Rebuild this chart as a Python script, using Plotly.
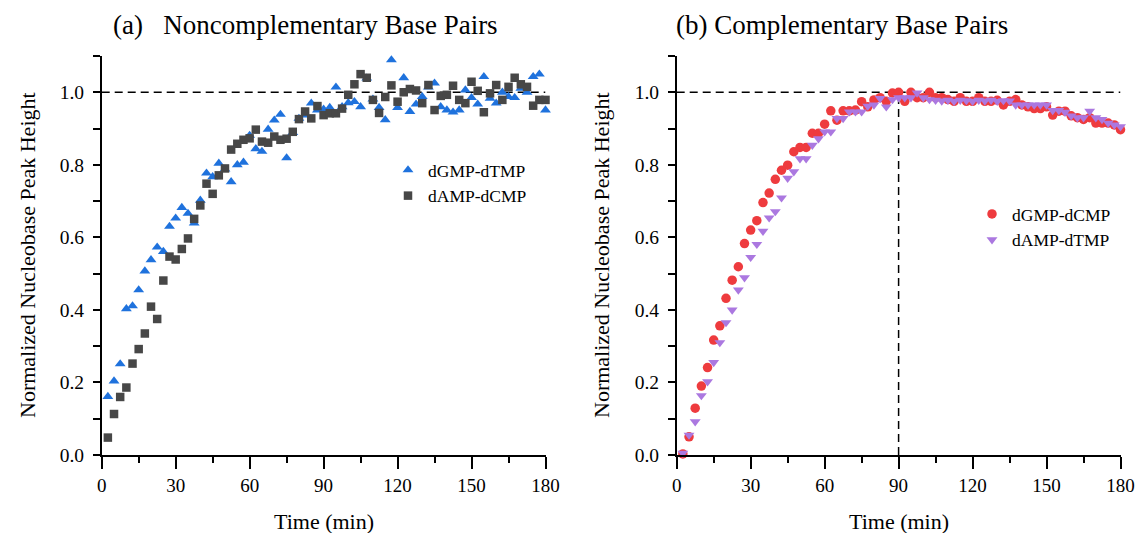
import plotly.graph_objects as go
from plotly.subplots import make_subplots

TIME = [2.5, 5, 7.5, 10, 12.5, 15, 17.5, 20, 22.5, 25,
        27.5, 30, 32.5, 35, 37.5, 40, 42.5, 45, 47.5, 50,
        52.5, 55, 57.5, 60, 62.5, 65, 67.5, 70, 72.5, 75,
        77.5, 80, 82.5, 85, 87.5, 90, 92.5, 95, 97.5, 100,
        102.5, 105, 107.5, 110, 112.5, 115, 117.5, 120, 122.5, 125,
        127.5, 130, 132.5, 135, 137.5, 140, 142.5, 145, 147.5, 150,
        152.5, 155, 157.5, 160, 162.5, 165, 167.5, 170, 172.5, 175,
        177.5, 180]

# (a) Noncomplementary
dGMP_dTMP = [0.161, 0.204, 0.251, 0.403, 0.411, 0.455, 0.507, 0.538, 0.573, 0.561,
             0.630, 0.653, 0.682, 0.666, 0.639, 0.702, 0.777, 0.767, 0.804, 0.788,
             0.753, 0.800, 0.807, 0.881, 0.844, 0.837, 0.898, 0.923, 0.939, 0.819,
             0.889, 0.928, 0.937, 0.970, 0.951, 0.953, 0.958, 1.014, 0.960, 0.971,
             0.974, 0.960, 1.039, 0.981, 0.958, 0.924, 1.089, 0.958, 1.040, 0.947,
             0.967, 0.988, 1.014, 1.025, 0.960, 0.951, 0.945, 0.951, 1.006, 0.985,
             0.967, 1.043, 0.983, 0.970, 1.000, 0.988, 0.985, 1.011, 1.000, 1.043,
             1.050, 0.951]
dAMP_dCMP = [0.048, 0.113, 0.160, 0.186, 0.252, 0.292, 0.335, 0.409, 0.375, 0.481,
             0.547, 0.539, 0.568, 0.597, 0.651, 0.688, 0.748, 0.720, 0.771, 0.790,
             0.842, 0.858, 0.869, 0.873, 0.897, 0.864, 0.861, 0.878, 0.869, 0.872,
             0.891, 0.926, 0.947, 0.928, 0.962, 0.937, 0.942, 0.942, 0.955, 0.993,
             1.022, 1.050, 1.040, 0.979, 0.943, 0.987, 1.019, 0.974, 1.000, 1.009,
             1.005, 0.970, 1.020, 0.951, 0.990, 0.993, 1.018, 0.979, 0.970, 1.029,
             1.004, 0.945, 0.997, 1.020, 0.979, 1.015, 1.040, 1.022, 1.015, 0.963,
             0.979, 0.979]

# (b) Complementary
dGMP_dCMP = [0.003, 0.050, 0.129, 0.190, 0.241, 0.317, 0.356, 0.432, 0.482, 0.519,
             0.583, 0.620, 0.646, 0.696, 0.722, 0.760, 0.785, 0.799, 0.836, 0.848,
             0.848, 0.887, 0.887, 0.912, 0.949, 0.923, 0.949, 0.949, 0.951, 0.974,
             0.960, 0.979, 0.985, 0.975, 0.998, 1.000, 0.975, 1.000, 0.985, 0.985,
             1.000, 0.985, 0.985, 0.980, 0.975, 0.985, 0.975, 0.975, 0.985, 0.975,
             0.975, 0.978, 0.965, 0.975, 0.980, 0.965, 0.960, 0.955, 0.955, 0.960,
             0.937, 0.948, 0.948, 0.935, 0.930, 0.925, 0.930, 0.915, 0.915, 0.915,
             0.910, 0.897]
dAMP_dTMP = [0.005, 0.055, 0.092, 0.164, 0.202, 0.255, 0.310, 0.365, 0.400, 0.455,
             0.489, 0.545, 0.581, 0.617, 0.654, 0.671, 0.709, 0.763, 0.781, 0.817,
             0.817, 0.854, 0.872, 0.891, 0.891, 0.928, 0.928, 0.946, 0.946, 0.946,
             0.962, 0.965, 0.983, 0.960, 0.980, 0.985, 0.985, 0.985, 0.998, 0.985,
             0.980, 0.978, 0.976, 0.978, 0.975, 0.978, 0.977, 0.975, 0.978, 0.976,
             0.978, 0.975, 0.977, 0.976, 0.965, 0.965, 0.965, 0.965, 0.965, 0.965,
             0.950, 0.950, 0.945, 0.935, 0.930, 0.930, 0.948, 0.930, 0.925, 0.915,
             0.910, 0.905]

X_TICKS = [0, 30, 60, 90, 120, 150, 180]
Y_TICKS = [0.0, 0.2, 0.4, 0.6, 0.8, 1.0]
REF_LEVEL = 1.0
REF_TIME = 90

FONT = "Liberation Serif"
W, H = 1136, 533

def px_x(p):
    return p / W

def px_y(p):
    return (H - p) / H

fig = make_subplots(rows=1, cols=2)

fig.add_trace(go.Scatter(x=TIME, y=dGMP_dTMP, mode="markers", name="dGMP-dTMP",
                         marker=dict(symbol="triangle-up", size=9.5, color="#1f72dd"),
                         cliponaxis=False, legend="legend"), row=1, col=1)
fig.add_trace(go.Scatter(x=TIME, y=dAMP_dCMP, mode="markers", name="dAMP-dCMP",
                         marker=dict(symbol="square", size=8.5, color="#474747"),
                         cliponaxis=False, legend="legend"), row=1, col=1)
fig.add_trace(go.Scatter(x=TIME, y=dGMP_dCMP, mode="markers", name="dGMP-dCMP",
                         marker=dict(symbol="circle", size=9.5, color="#ee3b3e"),
                         cliponaxis=False, legend="legend2"), row=1, col=2)
fig.add_trace(go.Scatter(x=TIME, y=dAMP_dTMP, mode="markers", name="dAMP-dTMP",
                         marker=dict(symbol="triangle-down", size=9.5, color="#ab78e0"),
                         cliponaxis=False, legend="legend2"), row=1, col=2)

dash = "8px,5px"
for xr, yr in (("x", "y"), ("x2", "y2")):
    fig.add_shape(type="line", xref=xr, yref=yr, x0=0, x1=180, y0=REF_LEVEL, y1=REF_LEVEL,
                  line=dict(color="black", width=1.5, dash=dash), layer="below")
fig.add_shape(type="line", xref="x2", yref="y2", x0=REF_TIME, x1=REF_TIME, y0=0, y1=REF_LEVEL,
              line=dict(color="black", width=1.5, dash=dash), layer="below")

xaxis_common = dict(range=[0, 180], tickvals=X_TICKS, ticks="outside", ticklen=12, tickwidth=1.5,
                    tickcolor="black", showline=True, linecolor="black", linewidth=1.5,
                    showgrid=False, zeroline=False, automargin=False,
                    tickfont=dict(family=FONT, size=19, color="black"),
                    minor=dict(ticks="outside", ticklen=6, tickwidth=1.5, tickcolor="black",
                               dtick=15, tick0=0, showgrid=False))
yaxis_common = dict(range=[0, 1.1], tickvals=Y_TICKS, tickformat=".1f", ticks="outside", ticklen=7,
                    tickwidth=1.5, tickcolor="black", showline=True, linecolor="black",
                    linewidth=1.5, showgrid=False, zeroline=False, automargin=False,
                    ticklabelstandoff=5,
                    tickfont=dict(family=FONT, size=19.5, color="black"),
                    minor=dict(ticks="outside", ticklen=7, tickwidth=1.5, tickcolor="black",
                               dtick=0.1, tick0=0, showgrid=False))

fig.update_xaxes(**xaxis_common)
fig.update_yaxes(**yaxis_common)
fig.update_layout(
    xaxis=dict(domain=[px_x(101.7), px_x(545.5)]),
    xaxis2=dict(domain=[px_x(676.7), px_x(1120.5)]),
    yaxis=dict(domain=[px_y(455), px_y(56)]),
    yaxis2=dict(domain=[px_y(455), px_y(56)]),
)

annotations = [
    dict(text="(a)\u00a0\u00a0\u00a0Noncomplementary Base Pairs", x=px_x(306), y=px_y(25)),
    dict(text="(b) Complementary Base Pairs", x=px_x(842), y=px_y(25)),
]
for a in annotations:
    fig.add_annotation(xref="paper", yref="paper", xanchor="center", yanchor="middle",
                       showarrow=False, font=dict(family=FONT, size=27, color="black"), **a)

for xc in (323.6, 898.6):
    fig.add_annotation(text="Time (min)", xref="paper", yref="paper", x=px_x(xc), y=px_y(521),
                       xanchor="center", yanchor="middle", showarrow=False,
                       font=dict(family=FONT, size=22, color="black"))
for xc in (28, 602):
    fig.add_annotation(text="Normalized Nucleobase Peak Height", xref="paper", yref="paper",
                       x=px_x(xc), y=px_y(255), xanchor="center", yanchor="middle",
                       textangle=-90, showarrow=False,
                       font=dict(family=FONT, size=22, color="black"))

legend_common = dict(font=dict(family=FONT, size=17.5, color="black"), bgcolor="rgba(0,0,0,0)",
                     borderwidth=0, xanchor="left", yanchor="middle", itemsizing="trace",
                     tracegroupgap=0)
fig.update_layout(
    legend=dict(x=px_x(388), y=px_y(183), **legend_common),
    legend2=dict(x=px_x(972), y=px_y(227), **legend_common),
    showlegend=True,
    width=W, height=H,
    margin=dict(l=0, r=0, t=0, b=0, autoexpand=False),
    paper_bgcolor="white", plot_bgcolor="white",
    font=dict(family=FONT, color="black"),
)

fig.write_html("out.html")
